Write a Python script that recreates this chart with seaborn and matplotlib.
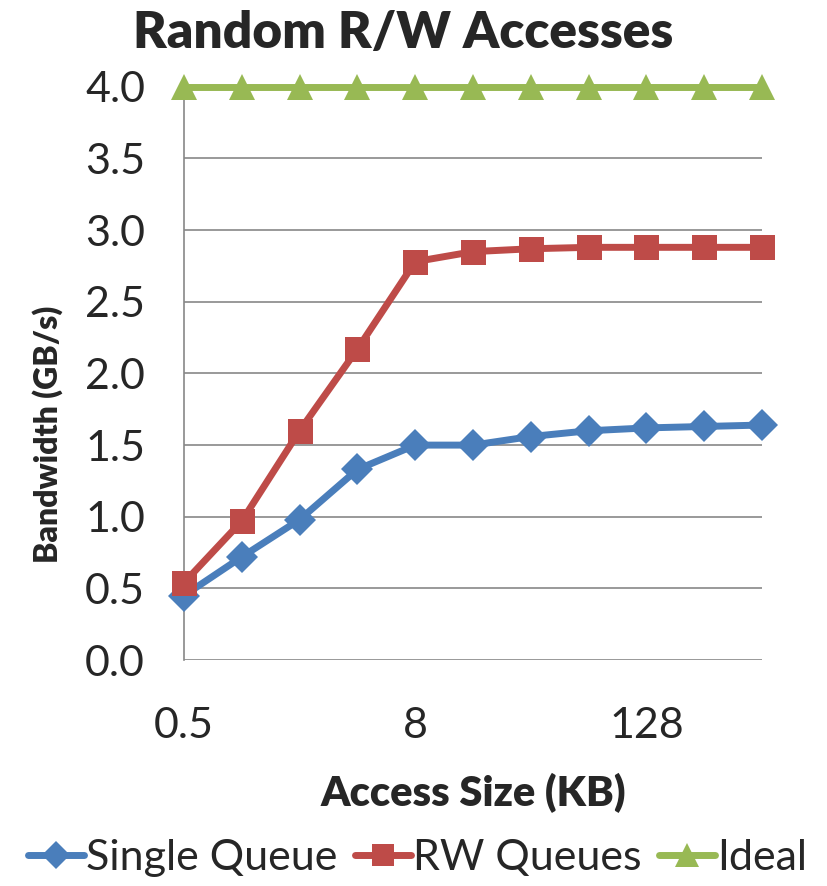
import matplotlib
matplotlib.use('Agg')
import matplotlib.pyplot as plt
import seaborn as sns
import pandas as pd

# data
sizes = ['0.5', '1', '2', '4', '8', '16', '32', '64', '128', '256', '512']
single_queue = [0.45, 0.72, 0.98, 1.33, 1.50, 1.50, 1.56, 1.60, 1.62, 1.63, 1.64]
rw_queues = [0.54, 0.97, 1.60, 2.17, 2.78, 2.85, 2.87, 2.88, 2.88, 2.88, 2.88]
ideal = [4.0] * 11
shown_ticks = ['0.5', '8', '128']

series = {'Single Queue': single_queue, 'RW Queues': rw_queues, 'Ideal': ideal}
colors = {'Single Queue': '#4A7EBB', 'RW Queues': '#BE4B48', 'Ideal': '#98B954'}
markers = {'Single Queue': 'D', 'RW Queues': 's', 'Ideal': '^'}
msizes = {'Single Queue': 16, 'RW Queues': 18, 'Ideal': 19}

rows = []
for name, vals in series.items():
    for i, v in enumerate(vals):
        rows.append({'pos': i, 'size': sizes[i], 'bw': v, 'series': name})
df = pd.DataFrame(rows)

sns.set_style('white')
plt.rcParams['font.family'] = ['Lato', 'DejaVu Sans']

fig = plt.figure(figsize=(8.27, 8.86), dpi=100)
ax = fig.add_axes([0.2225, 0.255, 0.699, 0.647])

for name in series:
    sub = df[df['series'] == name]
    sns.lineplot(data=sub, x='pos', y='bw', ax=ax, color=colors[name], lw=5,
                 marker=markers[name], markersize=msizes[name], markeredgewidth=0,
                 label=name, zorder=3, clip_on=False)

ax.set_xlim(0, len(sizes) - 1)
ax.set_ylim(0, 4.0)
ax.set_yticks([0, 0.5, 1.0, 1.5, 2.0, 2.5, 3.0, 3.5, 4.0])
ax.set_yticklabels([f'{v:.1f}' for v in ax.get_yticks()])
ax.set_xticks([sizes.index(t) for t in shown_ticks])
ax.set_xticklabels(shown_ticks)
ax.tick_params(axis='y', length=0, pad=28, labelsize=31)
ax.tick_params(axis='x', length=0, pad=34, labelsize=31)

ax.yaxis.grid(True, color='#878787', lw=1.2)
ax.xaxis.grid(False)
for s in ['top', 'right', 'bottom']:
    ax.spines[s].set_visible(False)
ax.spines['left'].set_color('#878787')
ax.spines['left'].set_linewidth(1.2)

ax.set_xlabel('Access Size (KB)', fontsize=30, fontweight='heavy', labelpad=20)
ax.set_ylabel('Bandwidth (GB/s)', fontsize=23, fontweight='heavy')
ax.yaxis.set_label_coords(-0.21, 0.394)

fig.text(403 / 827, 1 - 33 / 886, 'Random R/W Accesses', fontsize=37,
         fontweight='heavy', ha='center', va='center')

ax.get_legend().remove()
handles, labels = ax.get_legend_handles_labels()
fig.legend(handles, labels, loc='center', bbox_to_anchor=(0.505, 1 - 858 / 886),
           ncol=3, frameon=False, fontsize=31, handlelength=1.3, handletextpad=0.05,
           columnspacing=0.4, borderaxespad=0, markerscale=0.9)

fig.savefig('out.png', dpi=100)
